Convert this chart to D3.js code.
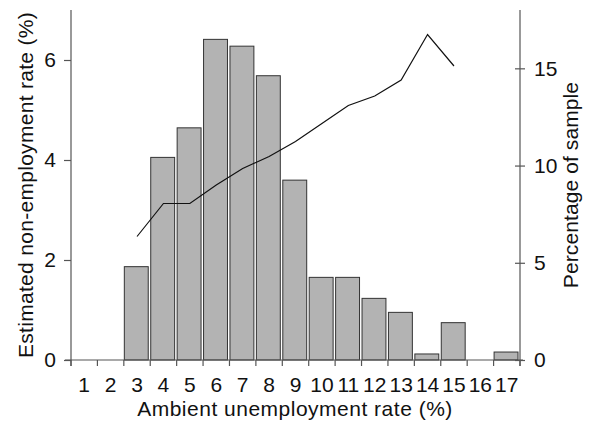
<!DOCTYPE html>
<html>
<head>
<meta charset="utf-8">
<script src="https://cdn.jsdelivr.net/npm/d3@7"></script>
<style>
  body { margin: 0; background: #fff; }
  svg text { font-family: "Liberation Sans", Arial, sans-serif; fill: #111; }
</style>
</head>
<body>
<svg id="chart"></svg>
<script>
// ambient unemployment rate bins (%)
const rates = [1, 2, 3, 4, 5, 6, 7, 8, 9, 10, 11, 12, 13, 14, 15, 16, 17];
// share of sample in each bin (right axis, %)
const sampleShare = [0, 0, 4.8, 10.42, 11.94, 16.49, 16.14, 14.62, 9.25, 4.25, 4.25, 3.17, 2.45, 0.31, 1.92, 0, 0.41];
// estimated non-employment rate (left axis, %), null = not estimated
const nonEmpRate = [null, null, 2.47, 3.13, 3.13, 3.5, 3.83, 4.07, 4.37, 4.73, 5.09, 5.28, 5.6, 6.51, 5.88, null, null];

const leftTicks = [0, 2, 4, 6];
const rightTicks = [0, 5, 10, 15];

const W = 590, H = 423;
const svg = d3.select("#chart").attr("width", W).attr("height", H);

const x0 = 71, x1 = 520, yTop = 10, yBase = 360;
const axisCol = "#555";
const fs = "21px";

const x = d3.scaleBand().domain(rates).range([x0, x1]).padding(0);
const yLeft = d3.scaleLinear().domain([0, 7]).range([yBase, yTop]);
const yRight = d3.scaleLinear().domain([0, 18]).range([yBase, yTop]);

// ---- bars (percentage of sample) ----
svg.append("g").selectAll("rect")
  .data(rates.map((r, i) => ({ r: r, v: sampleShare[i] })).filter(d => d.v > 0))
  .enter().append("rect")
  .attr("x", d => x(d.r) + 0.5)
  .attr("width", x.bandwidth() - 2.5)
  .attr("y", d => yRight(d.v))
  .attr("height", d => yBase - yRight(d.v))
  .attr("fill", "#b3b3b3")
  .attr("stroke", "#333")
  .attr("stroke-width", 1);

// ---- line (non-employment rate) ----
const line = d3.line()
  .defined(d => d.v !== null)
  .x(d => x(d.r) + x.bandwidth() / 2)
  .y(d => yLeft(d.v));

svg.append("path")
  .datum(rates.map((r, i) => ({ r: r, v: nonEmpRate[i] })))
  .attr("d", line)
  .attr("fill", "none")
  .attr("stroke", "#111")
  .attr("stroke-width", 1.2);

// ---- x axis: ticks at bin edges, labels at bin centres ----
const edges = rates.map(r => x(r)).concat([x1]);
const xg = svg.append("g");
xg.append("line")
  .attr("x1", x0 - 6).attr("x2", x1 + 3)
  .attr("y1", yBase).attr("y2", yBase)
  .attr("stroke", axisCol).attr("stroke-width", 1.2);
xg.selectAll("line.tick").data(edges).enter().append("line")
  .attr("class", "tick")
  .attr("x1", d => d).attr("x2", d => d)
  .attr("y1", yBase).attr("y2", yBase + 6)
  .attr("stroke", axisCol).attr("stroke-width", 1.2);
xg.selectAll("text").data(rates).enter().append("text")
  .attr("x", d => x(d) + x.bandwidth() / 2)
  .attr("y", 392)
  .attr("text-anchor", "middle")
  .attr("font-size", fs)
  .text(d => d);

// ---- left axis ----
const lg = svg.append("g").attr("transform", `translate(${x0},0)`)
  .call(d3.axisLeft(yLeft).tickValues(leftTicks).tickFormat(d3.format("d")).tickSize(7).tickPadding(8));
lg.select(".domain").attr("d", `M0,${yTop}V${yBase + 6}`);

// ---- right axis ----
const rg = svg.append("g").attr("transform", `translate(${x1},0)`)
  .call(d3.axisRight(yRight).tickValues(rightTicks).tickFormat(d3.format("d")).tickSize(5).tickPadding(9));
rg.select(".domain").attr("d", `M0,${yTop}V${yBase + 6}`);
rg.selectAll(".tick line").attr("x1", -5);

[lg, rg].forEach(g => {
  g.select(".domain").attr("stroke", axisCol).attr("stroke-width", 1.2);
  g.selectAll(".tick line").attr("stroke", axisCol).attr("stroke-width", 1.2);
  g.selectAll(".tick text")
    .attr("font-size", fs)
    .attr("font-family", "Liberation Sans, Arial, sans-serif")
    .attr("fill", "#111");
});

// ---- axis titles ----
svg.append("text")
  .attr("x", 295).attr("y", 416)
  .attr("text-anchor", "middle")
  .attr("font-size", fs)
  .attr("letter-spacing", "0.5px")
  .text("Ambient unemployment rate (%)");

svg.append("text")
  .attr("transform", "translate(33,185) rotate(-90)")
  .attr("text-anchor", "middle")
  .attr("font-size", fs)
  .attr("letter-spacing", "0.3px")
  .text("Estimated non-employment rate (%)");

svg.append("text")
  .attr("transform", "translate(578,185) rotate(-90)")
  .attr("text-anchor", "middle")
  .attr("font-size", fs)
  .attr("letter-spacing", "0.1px")
  .text("Percentage of sample");
</script>
</body>
</html>
